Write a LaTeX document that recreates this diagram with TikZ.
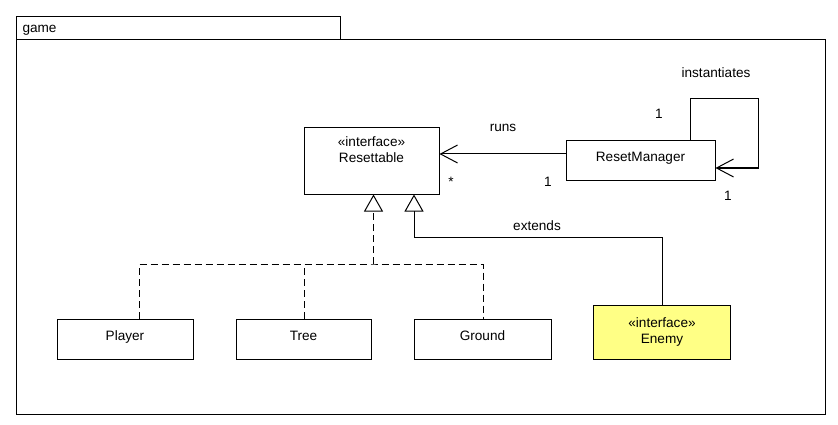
\documentclass[tikz,border=0pt]{standalone}
\usepackage{fontspec}
\setmainfont{Liberation Sans}
\usetikzlibrary{arrows.meta}

\definecolor{enemyyellow}{RGB}{255,255,133}

\begin{document}
\begin{tikzpicture}[x=1pt,y=-1pt,line width=1pt,
    font=\fontsize{13.6}{16}\selectfont,
    class/.style={draw,rectangle,inner sep=0pt,text height=7.5pt,text depth=5.5pt},
    iface/.style={draw,rectangle,inner sep=0pt,align=center,fill=enemyyellow},
    assoc/.style={-{Straight Barb[length=17pt,width=18pt,line width=1pt]}},
    hollow/.style={-{Triangle[open,length=17pt,width=19pt,line width=1pt]}},
    realize/.style={dash pattern=on 7pt off 4pt}]
    \useasboundingbox (0,0) rectangle (838,425);

    % draw the package frame
    \draw (16,17) rectangle (340,40);
    \draw (16,40) rectangle (825,414);
    \node[anchor=base west,inner sep=0pt] (pkg) at (22,32.5) {game};

    % draw the classes
    \node[class,minimum width=135pt,minimum height=66pt,
          label={[align=center,yshift=11pt]center:{«interface»\\Resettable}}]
          (resettable) at (371.5,161) {};
    \node[class,minimum width=149pt,minimum height=39pt] (manager) at (640.5,160.5) {ResetManager};
    \node[class,minimum width=136pt,minimum height=40pt] (player) at (125,339) {Player};
    \node[class,minimum width=135pt,minimum height=40pt] (tree) at (303.5,339) {Tree};
    \node[class,minimum width=137pt,minimum height=40pt] (ground) at (482.5,339) {Ground};
    \node[iface,minimum width=137pt,minimum height=54pt] (enemy) at (662,332) {«interface»\\Enemy};

    % ResetManager runs the resettables
    \coordinate (runs end) at ([yshift=6.5pt]manager.west);
    \draw[assoc] (runs end) -- (runs end -| resettable.east);
    \node (runs) at (503,128) {runs};
    \node (many) at (451,182) {*};
    \node (one runs) at (548,182) {1};

    % the self association
    \coordinate (loop) at (758,99);
    \draw[assoc] ([xshift=49.5pt]manager.north) |- (loop) |- ([yshift=-7.5pt]manager.east);
    \node (inst) at (716,73) {instantiates};
    \node (one top) at (659,114) {1};
    \node (one side) at (728,196) {1};

    % Enemy extends Resettable
    \coordinate (ext) at (414,237);
    \draw[hollow] (enemy.north) |- (ext) -- (ext |- resettable.south);
    \node (extends) at (537,226) {extends};

    % the realizations, joined in one fork
    \coordinate (fork) at (373.5,264);
    \draw[realize,line width=1.6pt,hollow] (fork) -- (fork |- resettable.south);
    \draw[realize] ([xshift=14pt]player.north) |- (fork) -| ([xshift=0.5pt]ground.north);
    \draw[realize] ([xshift=0.5pt]tree.north) -- ([xshift=0.5pt]tree.north |- fork);
\end{tikzpicture}
\end{document}
